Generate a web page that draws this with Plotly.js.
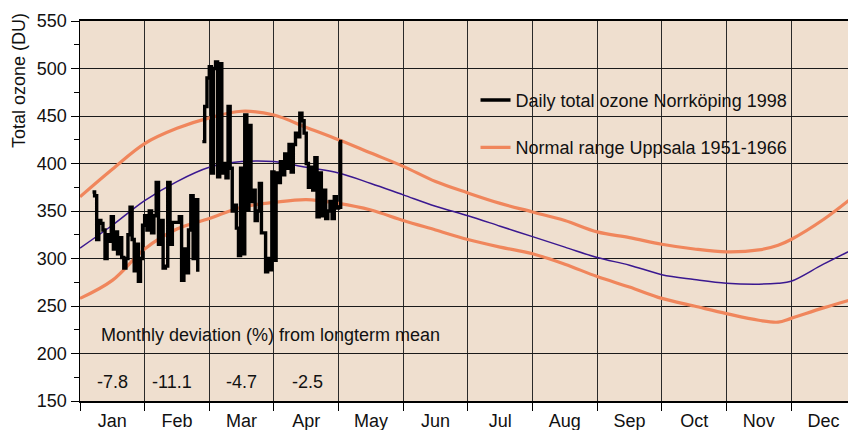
<!DOCTYPE html>
<html>
<head>
<meta charset="utf-8">
<script src="https://cdn.plot.ly/plotly-3.0.1.min.js"></script>
<style>html,body{margin:0;padding:0;background:#fff;}#chart{width:848px;height:430px;}</style>
</head>
<body>
<div id="chart"></div>
<script>
// ---- Data ----
const months = ['Jan','Feb','Mar','Apr','May','Jun','Jul','Aug','Sep','Oct','Nov','Dec'];
const monthDays1998 = [31,28,31,30,31,30,31,31,30,31,30,31];

// Normal range curves (x in months from 1 Jan)
const curveMonth = [0,0.5,1,1.5,2,2.5,3,3.5,4,4.5,5,5.5,6,6.5,7,7.5,8,8.5,9,9.5,10,10.5,10.8,11,11.5,12];
const upperRange = [365,394,421,437,448,455,451,438,425,411,397,381,369,358,349,340,328,322,315,310,307,309,314,320,341,367];
const meanOzone  = [311,335,361,381,396,402,402,396,390,379,367,355,345,334,323,312,301,293,283,278,274,273,274,276,294,311];
const lowerRange = [258,277,310,331,342,354,359,362,358,351,340,330,320,312,305,294,281,270,258,250,242,235,233,237,248,258];

// Daily total ozone Norrköping 1998, starting 7 January
const dailyStart = {month: 0, day: 7};
const dailyOzone = [
  // Jan 7-31
  370,366,320,340,337,330,300,325,318,344,310,328,305,322,301,290,300,325,354,320,287,315,276,300,335,
  // Feb 1-28
  345,330,350,327,345,380,315,340,290,292,380,315,338,338,338,344,277,310,285,330,366,300,362,286,null,423,460,490,
  // Mar 1-31
  502,390,500,507,386,505,390,400,385,460,395,350,356,332,303,395,305,451,351,440,360,372,340,350,379,327,327,286,300,288,391,
  // Apr 1-30
  298,390,380,402,388,410,395,420,391,420,432,428,453,445,432,400,375,396,372,406,344,390,345,372,342,350,360,342,365,353,
  // May 1-2
  354,425
];

const yTitle = 'Total ozone (DU)';
const deviationLabel = 'Monthly deviation (%) from longterm mean';
const deviationMonth = [0.5, 1.42, 2.5, 3.52];
const deviationText = ['-7.8','-11.1','-4.7','-2.5'];

// ---- Build daily x positions (month units) ----
const dailyX = [];
{
  let m = dailyStart.month, d = dailyStart.day;
  for (let i = 0; i < dailyOzone.length; i++) {
    dailyX.push(m + (d - 1) / monthDays1998[m]);
    d++;
    if (d > monthDays1998[m]) { d = 1; m++; }
  }
}

const FONT = '"Liberation Sans", Arial, sans-serif';
const FS = 18;
const orange = '#f0865c';
const purple = '#3a1890';

const traces = [
  {x: curveMonth, y: upperRange, mode: 'lines', line: {color: orange, width: 3.2, shape: 'spline'},
   name: 'Normal range Uppsala 1951-1966', legendgroup: 'b', legendrank: 2, hoverinfo: 'skip'},
  {x: curveMonth, y: lowerRange, mode: 'lines', line: {color: orange, width: 3.2, shape: 'spline'},
   showlegend: false, legendgroup: 'b', hoverinfo: 'skip'},
  {x: curveMonth, y: meanOzone, mode: 'lines', line: {color: purple, width: 1.5, shape: 'spline'},
   showlegend: false, hoverinfo: 'skip'},
  {x: dailyX, y: dailyOzone, mode: 'lines', line: {color: '#000', width: 3.4, shape: 'hv'},
   name: 'Daily total ozone Norrköping 1998', legendgroup: 'a', legendrank: 1, connectgaps: false}
];

const annotations = [
  {x: 0.29, y: 219, xref: 'x', yref: 'y', text: deviationLabel, showarrow: false,
   xanchor: 'left', yanchor: 'middle', font: {family: FONT, size: FS, color: '#111'}},
  {x: (19 - 80) / 768, y: 1 - (81 - 21) / 380, xref: 'paper', yref: 'paper', text: yTitle,
   showarrow: false, textangle: -90,
   xanchor: 'center', yanchor: 'middle', font: {family: FONT, size: FS, color: '#111'}}
];
deviationText.forEach((t, i) => annotations.push({
  x: deviationMonth[i], y: 170, xref: 'x', yref: 'y', text: t, showarrow: false,
  xanchor: 'center', yanchor: 'middle', font: {family: FONT, size: FS, color: '#111'}
}));

const layout = {
  width: 848, height: 430,
  margin: {l: 80, r: 0, t: 21, b: 29, pad: 0},
  paper_bgcolor: '#ffffff',
  plot_bgcolor: '#efdfcf',
  font: {family: FONT, size: FS, color: '#111'},
  showlegend: true,
  legend: {x: 0.515, y: 0.84, xanchor: 'left', yanchor: 'top', bgcolor: 'rgba(0,0,0,0)',
           font: {family: FONT, size: FS, color: '#111'}, traceorder: 'grouped', tracegroupgap: 21,
           itemwidth: 30},
  xaxis: {
    range: [0, 11.88], tickmode: 'array',
    tickvals: months.map((_, i) => i + 0.5), ticktext: months,
    ticks: '', showgrid: false, zeroline: false,
    showline: true, linecolor: '#000', linewidth: 2, mirror: true,
    tickfont: {family: FONT, size: FS, color: '#111'}, ticklabelstandoff: 2,
    minor: {tickmode: 'array', tickvals: [0,1,2,3,4,5,6,7,8,9,10,11,12], ticks: 'outside', ticklen: 8,
            tickcolor: '#000', tickwidth: 1, showgrid: true, gridcolor: '#2a2a2a', gridwidth: 1}
  },
  yaxis: {
    range: [150, 550], tickmode: 'linear', tick0: 150, dtick: 50,
    ticks: 'outside', ticklen: 8, tickcolor: '#000', tickwidth: 1,
    showgrid: true, gridcolor: '#1a1a1a', gridwidth: 1, zeroline: false,
    showline: true, linecolor: '#000', linewidth: 1.5,
    tickfont: {family: FONT, size: FS, color: '#111'},
    minor: {tick0: 150, dtick: 25, ticks: 'outside', ticklen: 5, tickcolor: '#000', showgrid: false}
  },
  annotations: annotations
};

Plotly.newPlot('chart', traces, layout, {displayModeBar: false, staticPlot: true});
</script>
</body>
</html>
